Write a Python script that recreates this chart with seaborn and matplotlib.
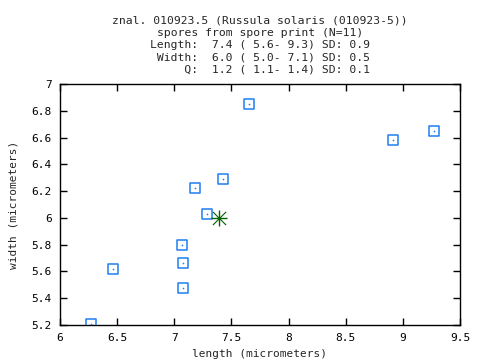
import matplotlib
matplotlib.use("Agg")
import matplotlib.pyplot as plt
import seaborn as sns

length = [6.27, 6.46, 7.07, 7.08, 7.08, 7.18, 7.29, 7.43, 7.65, 8.91, 9.27]
width = [5.21, 5.62, 5.80, 5.66, 5.48, 6.22, 6.03, 6.29, 6.85, 6.58, 6.65]
mean_length = [7.39]
mean_width = [6.0]

x_ticks = [6, 6.5, 7, 7.5, 8, 8.5, 9, 9.5]
x_tick_labels = ["6", "6.5", "7", "7.5", "8", "8.5", "9", "9.5"]
y_ticks = [5.2, 5.4, 5.6, 5.8, 6.0, 6.2, 6.4, 6.6, 6.8, 7.0]
y_tick_labels = ["5.2", "5.4", "5.6", "5.8", "6", "6.2", "6.4", "6.6", "6.8", "7"]

title_lines = [
    "znal. 010923.5 (Russula solaris (010923-5))",
    "spores from spore print (N=11)",
    "Length:  7.4 ( 5.6- 9.3) SD: 0.9",
    " Width:  6.0 ( 5.0- 7.1) SD: 0.5",
    "     Q:  1.2 ( 1.1- 1.4) SD: 0.1",
]

sns.set_style("ticks")
plt.rcParams["font.family"] = ["DejaVu Sans Mono"]
plt.rcParams["font.size"] = 8

blue = "#1e80f0"
green = "#006400"

fig = plt.figure(figsize=(4.8, 3.6), dpi=100)
ax = fig.add_axes([0.125, 0.0972, 0.8333, 0.6694])

# open squares with a dot in the middle
sns.scatterplot(x=length, y=width, marker="s", s=52, facecolors="none",
                edgecolor=blue, linewidth=1.1, ax=ax, zorder=3)
sns.scatterplot(x=length, y=width, marker="o", s=1.5, color=blue,
                linewidth=0, ax=ax, zorder=3)

# mean marker (gnuplot-style asterisk)
sns.scatterplot(x=mean_length, y=mean_width, marker="+", s=130, color=green,
                linewidth=1.0, ax=ax, zorder=4)
sns.scatterplot(x=mean_length, y=mean_width, marker="x", s=90, color=green,
                linewidth=0.8, ax=ax, zorder=4)
sns.scatterplot(x=mean_length, y=mean_width, marker="o", s=6, color=green,
                linewidth=0, ax=ax, zorder=5)

ax.set_xlim(6, 9.5)
ax.set_ylim(5.2, 7)
ax.set_xticks(x_ticks)
ax.set_xticklabels(x_tick_labels)
ax.set_yticks(y_ticks)
ax.set_yticklabels(y_tick_labels)
ax.tick_params(direction="in", length=5, width=1, top=True, right=True,
               labelsize=8, colors="black", pad=6)
for sp in ax.spines.values():
    sp.set_visible(True)
    sp.set_linewidth(1)
    sp.set_color("black")

ax.set_xlabel("length (micrometers)", fontsize=8, labelpad=4)
ax.set_ylabel("width (micrometers)", fontsize=8, labelpad=9)

# title block, one line at a time (gnuplot spacing)
for i, line in enumerate(title_lines):
    fig.text(0.5417, 1 - (20.5 + 12.3 * i) / 360, line, ha="center",
             va="center", fontsize=8.2)

plt.savefig("out.png", dpi=100)
